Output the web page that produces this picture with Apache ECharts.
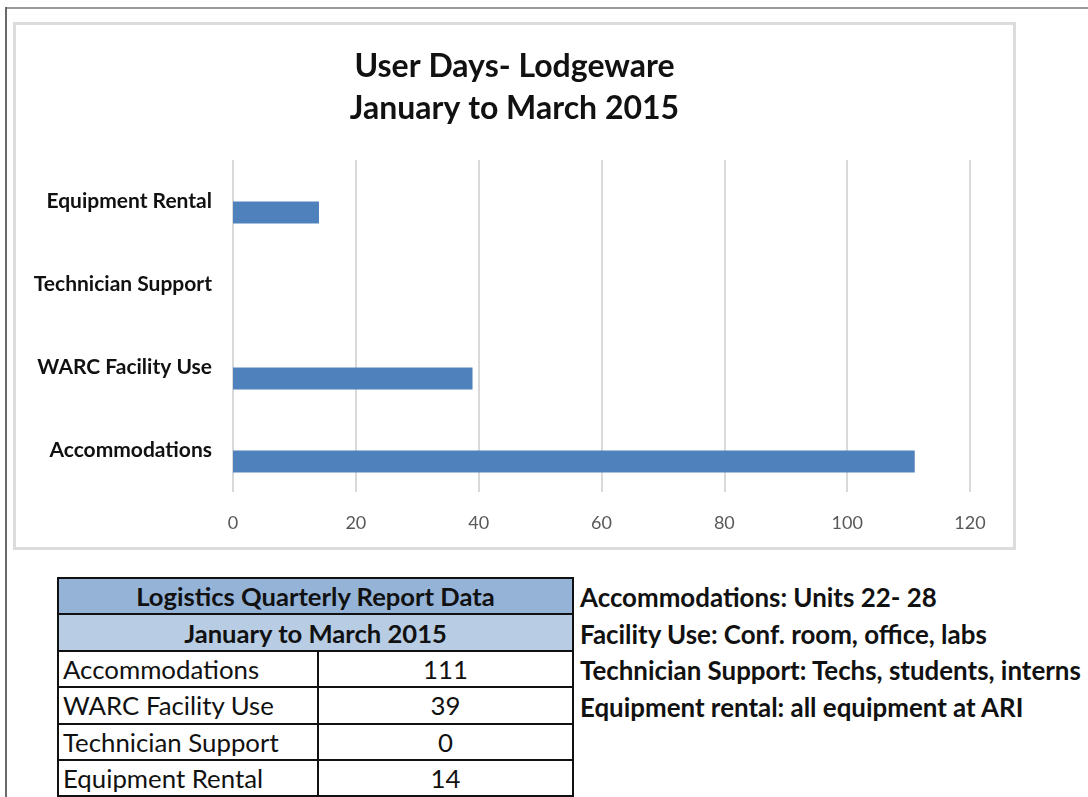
<!DOCTYPE html>
<html>
<head>
<meta charset="utf-8">
<script src="https://cdn.jsdelivr.net/npm/echarts@6/dist/echarts.min.js"></script>
<style>
  html, body { margin: 0; padding: 0; background: #fff; }
  body { width: 1088px; height: 797px; position: relative; overflow: hidden; font-family: Lato, 'Open Sans', sans-serif; }
  .frame-top { position: absolute; left: 6px; top: 7px; right: 0; height: 2px; background: #9a9a9a; }
  .frame-left { position: absolute; left: 5px; top: 7px; bottom: 0; width: 2px; background: #6a6a6a; }
  #chart {
    position: absolute; left: 13px; top: 22px; width: 1003px; height: 528px;
    box-sizing: border-box; border: 3px solid #dcdcdc;
  }
  table.report {
    position: absolute; left: 57px; top: 577px; width: 517px;
    border-collapse: collapse; font-size: 25.8px; color: #111;
  }
  table.report td { border: 2.5px solid #111; height: 34.4px; padding: 0 4px; line-height: 30px; }
  table.report td.head1 { background: #95b3d7; font-weight: bold; text-align: center; font-size: 25.6px; }
  table.report td.head2 { background: #b8cce4; font-weight: bold; text-align: center; font-size: 25.6px; }
  table.report td.label { width: 250px; }
  table.report td.value { text-align: center; }
  .notes { position: absolute; left: 580px; top: 579px; font-weight: bold; font-size: 25.9px; line-height: 36.5px; color: #111; white-space: nowrap; }
</style>
</head>
<body>
<div class="frame-top"></div>
<div class="frame-left"></div>
<div id="chart"></div>
<table class="report" id="report"></table>
<div class="notes" id="notes"></div>

<script>
// chart data
const categories = ['Accommodations', 'WARC Facility Use', 'Technician Support', 'Equipment Rental']
const userDays = [111, 39, 0, 14]
const axisMin = 0
const axisMax = 120
const axisStep = 20

const titleLines = ['User Days- Lodgeware', 'January to March 2015']
const tableTitle = 'Logistics Quarterly Report Data'
const tablePeriod = 'January to March 2015'
const notes = [
  'Accommodations: Units 22- 28',
  'Facility Use: Conf. room, office, labs',
  'Technician Support: Techs, students, interns',
  'Equipment rental: all equipment at ARI',
]

const barColor = '#4f81bd'

const chart = echarts.init(document.getElementById('chart'))

chart.setOption({
  animation: false,
  title: {
    text: titleLines.join('\n'),
    left: 'center',
    top: 16,
    textStyle: {
      fontFamily: 'Lato',
      fontSize: 32,
      fontWeight: 'bold',
      lineHeight: 42,
      color: '#111',
    },
  },
  grid: {
    left: 217,
    top: 135,
    width: 737,
    height: 332,
    containLabel: false,
  },
  xAxis: {
    type: 'value',
    min: axisMin,
    max: axisMax,
    interval: axisStep,
    axisLine: { show: false },
    axisTick: { show: false },
    axisLabel: {
      color: '#595959',
      fontFamily: 'Lato',
      fontSize: 18,
      margin: 22,
    },
    splitLine: {
      lineStyle: { color: '#d9d9d9', width: 2 },
    },
  },
  yAxis: {
    type: 'category',
    data: categories,
    axisLine: { show: false },
    axisTick: { show: false },
    axisLabel: {
      color: '#111',
      fontFamily: 'Lato',
      fontWeight: 'bold',
      fontSize: 21,
      margin: 21,
    },
  },
  series: [
    {
      // empty series, Excel keeps its slot in each band
      name: 'spacer',
      type: 'bar',
      data: categories.map(() => null),
      barWidth: 22,
      barGap: '0%',
      silent: true,
    },
    {
      name: 'User Days',
      type: 'bar',
      data: userDays,
      barWidth: 22,
      barGap: '0%',
      itemStyle: { color: barColor },
    },
  ],
})

// table under the chart
const report = document.getElementById('report')
let html = `<tr><td class="head1" colspan="2">${tableTitle}</td></tr>`
html += `<tr><td class="head2" colspan="2">${tablePeriod}</td></tr>`
categories.forEach((c, i) => {
  html += `<tr><td class="label">${c}</td><td class="value">${userDays[i]}</td></tr>`
})
report.innerHTML = html

document.getElementById('notes').innerHTML = notes.map((n) => `<div>${n}</div>`).join('')
</script>
</body>
</html>
